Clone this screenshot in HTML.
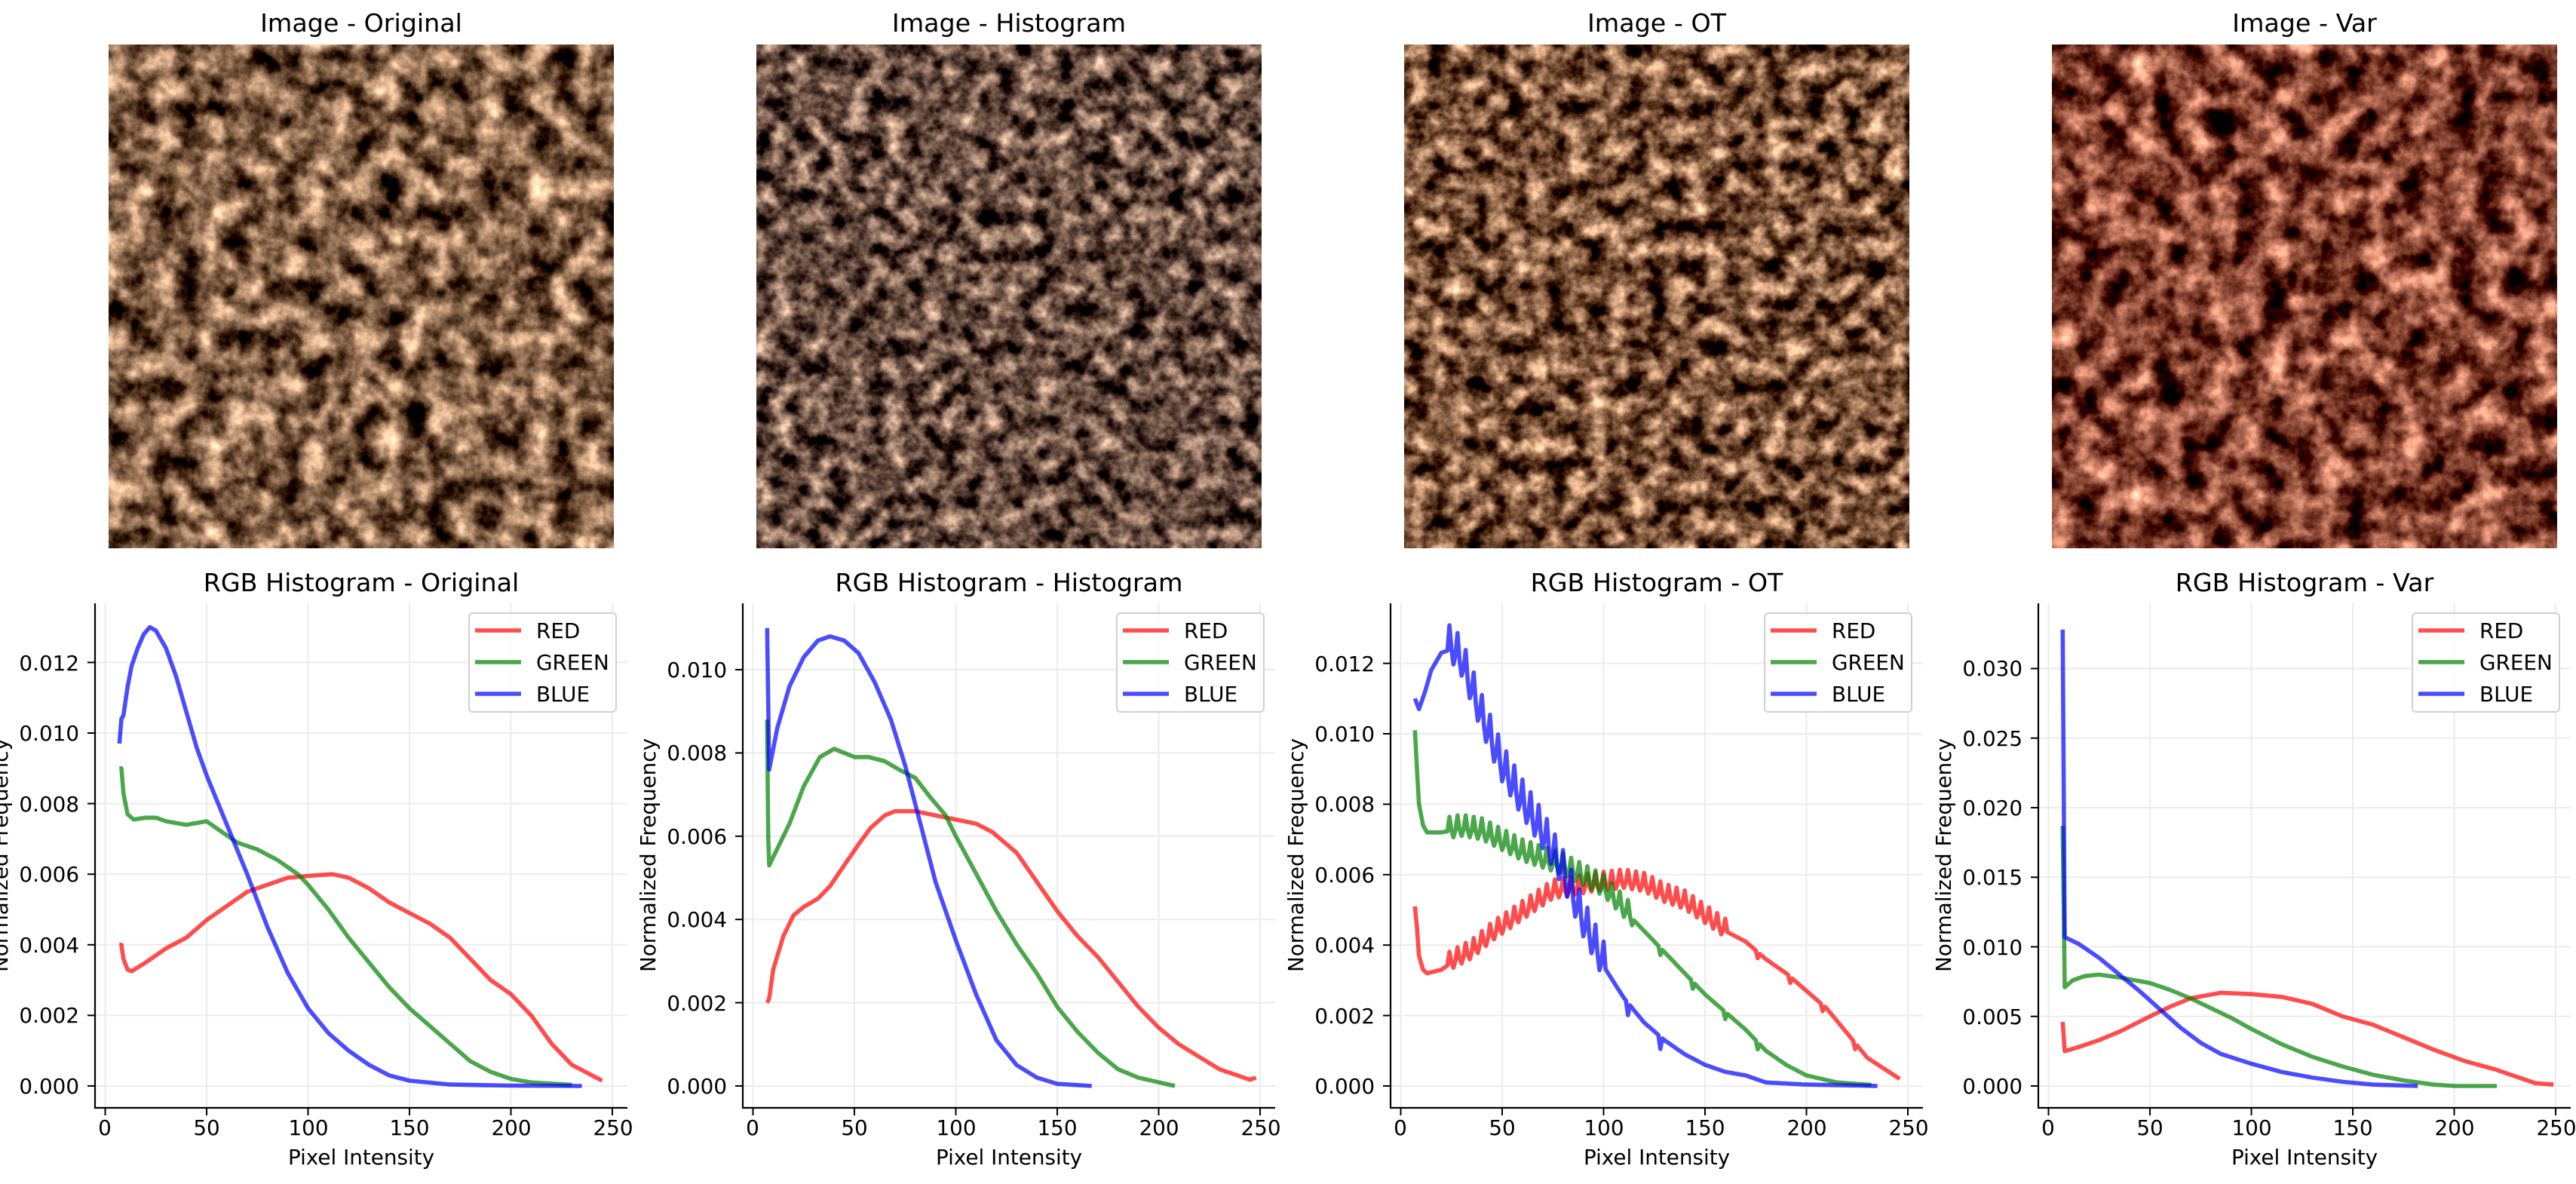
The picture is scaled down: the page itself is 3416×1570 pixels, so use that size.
<!DOCTYPE html>
<html><head><meta charset="utf-8"><style>
html,body{margin:0;padding:0;background:#fff;}
svg{display:block;font-family:"DejaVu Sans","Liberation Sans",sans-serif;}
</style></head><body>
<svg id="s" width="3416" height="1570" viewBox="0 0 3416 1570" xmlns="http://www.w3.org/2000/svg">
<defs>
<filter id="f0" x="0" y="0" width="1" height="1" color-interpolation-filters="sRGB"><feTurbulence type="fractalNoise" baseFrequency="0.03" numOctaves="5" seed="3"/><feColorMatrix type="matrix" values="1.8 0 0 0 -0.4  1.6 0 0 0 -0.43  1.4 0 0 0 -0.43  0 0 0 0 1"/></filter>
<filter id="f1" x="0" y="0" width="1" height="1" color-interpolation-filters="sRGB"><feTurbulence type="fractalNoise" baseFrequency="0.04" numOctaves="5" seed="7"/><feColorMatrix type="matrix" values="1.7 0 0 0 -0.45  1.5 0 0 0 -0.45  1.3 0 0 0 -0.4  0 0 0 0 1"/></filter>
<filter id="f2" x="0" y="0" width="1" height="1" color-interpolation-filters="sRGB"><feTurbulence type="fractalNoise" baseFrequency="0.038" numOctaves="5" seed="11"/><feColorMatrix type="matrix" values="1.8 0 0 0 -0.43  1.6 0 0 0 -0.48  1.4 0 0 0 -0.48  0 0 0 0 1"/></filter>
<filter id="f3" x="0" y="0" width="1" height="1" color-interpolation-filters="sRGB"><feTurbulence type="fractalNoise" baseFrequency="0.028" numOctaves="5" seed="19"/><feColorMatrix type="matrix" values="1.9 0 0 0 -0.45  1.6 0 0 0 -0.55  1.4 0 0 0 -0.52  0 0 0 0 1"/></filter>
</defs>
<g font-size="33.3" text-anchor="middle" fill="#000">
<text x="479" y="42">Image - Original</text>
<text x="1338" y="42">Image - Histogram</text>
<text x="2197" y="42">Image - OT</text>
<text x="3056" y="42">Image - Var</text>
<text x="479" y="784">RGB Histogram - Original</text>
<text x="1338" y="784">RGB Histogram - Histogram</text>
<text x="2197" y="784">RGB Histogram - OT</text>
<text x="3056" y="784">RGB Histogram - Var</text>
</g>
<rect x="144" y="59" width="670" height="668" filter="url(#f0)"/>
<rect x="1003" y="59" width="670" height="668" filter="url(#f1)"/>
<rect x="1862" y="59" width="670" height="668" filter="url(#f2)"/>
<rect x="2721" y="59" width="670" height="668" filter="url(#f3)"/>
<g id="plots"></g>
<g font-size="27.8" fill="#000">
<g text-anchor="middle">
<text x="479" y="1544">Pixel Intensity</text>
<text x="1338" y="1544">Pixel Intensity</text>
<text x="2197" y="1544">Pixel Intensity</text>
<text x="3056" y="1544">Pixel Intensity</text>
<text transform="translate(10,1134) rotate(-90)">Normalized Frequency</text>
<text transform="translate(869,1134) rotate(-90)">Normalized Frequency</text>
<text transform="translate(1728,1134) rotate(-90)">Normalized Frequency</text>
<text transform="translate(2587,1134) rotate(-90)">Normalized Frequency</text>
</g>
<g text-anchor="middle">
<text x="139" y="1505">0</text><text x="274" y="1505">50</text><text x="409" y="1505">100</text><text x="543" y="1505">150</text><text x="678" y="1505">200</text><text x="813" y="1505">250</text>
<text x="998" y="1505">0</text><text x="1133" y="1505">50</text><text x="1268" y="1505">100</text><text x="1402" y="1505">150</text><text x="1537" y="1505">200</text><text x="1672" y="1505">250</text>
<text x="1857" y="1505">0</text><text x="1992" y="1505">50</text><text x="2127" y="1505">100</text><text x="2261" y="1505">150</text><text x="2396" y="1505">200</text><text x="2531" y="1505">250</text>
<text x="2716" y="1505">0</text><text x="2851" y="1505">50</text><text x="2986" y="1505">100</text><text x="3120" y="1505">150</text><text x="3255" y="1505">200</text><text x="3390" y="1505">250</text>
</g>
<g text-anchor="end">
<text x="105" y="1450">0.000</text><text x="105" y="1356">0.002</text><text x="105" y="1263">0.004</text><text x="105" y="1169">0.006</text><text x="105" y="1076">0.008</text><text x="105" y="982">0.010</text><text x="105" y="889">0.012</text>
<text x="964" y="1450">0.000</text><text x="964" y="1340">0.002</text><text x="964" y="1229">0.004</text><text x="964" y="1119">0.006</text><text x="964" y="1008">0.008</text><text x="964" y="898">0.010</text>
<text x="1823" y="1450">0.000</text><text x="1823" y="1357">0.002</text><text x="1823" y="1263">0.004</text><text x="1823" y="1170">0.006</text><text x="1823" y="1076">0.008</text><text x="1823" y="983">0.010</text><text x="1823" y="890">0.012</text>
<text x="2682" y="1450">0.000</text><text x="2682" y="1358">0.005</text><text x="2682" y="1266">0.010</text><text x="2682" y="1173">0.015</text><text x="2682" y="1081">0.020</text><text x="2682" y="989">0.025</text><text x="2682" y="896">0.030</text>
</g>
<text x="711" y="846">RED</text><text x="711" y="888">GREEN</text><text x="711" y="930">BLUE</text>
<text x="1570" y="846">RED</text><text x="1570" y="888">GREEN</text><text x="1570" y="930">BLUE</text>
<text x="2429" y="846">RED</text><text x="2429" y="888">GREEN</text><text x="2429" y="930">BLUE</text>
<text x="3288" y="846">RED</text><text x="3288" y="888">GREEN</text><text x="3288" y="930">BLUE</text>
</g>
</svg>
<script>
var NS="http://www.w3.org/2000/svg";
var G=document.getElementById("plots");
function el(t,a){var e=document.createElementNS(NS,t);for(var k in a)e.setAttribute(k,a[k]);G.appendChild(e);return e;}
var scales=[46.8,55.2,46.7,18.45];
var yticks=[[0,.002,.004,.006,.008,.010,.012],[0,.002,.004,.006,.008,.010],[0,.002,.004,.006,.008,.010,.012],[0,.005,.010,.015,.020,.025,.030]];
var D=[
[[[7,.004],[8,.004],[9,.0036],[11,.0033],[13,.00325],[20,.0035],[30,.0039],[40,.0042],[50,.0047],[60,.0051],[70,.0055],[80,.0057],[90,.0059],[100,.00595],[112,.006],[120,.0059],[130,.0056],[140,.0052],[150,.0049],[160,.0046],[170,.0042],[180,.0036],[190,.003],[200,.0026],[210,.002],[220,.0012],[230,.0006],[245,.00015]],
[[7,.009],[8,.009],[9,.0083],[11,.0077],[14,.00755],[20,.0076],[25,.0076],[30,.0075],[40,.0074],[50,.0075],[55,.0073],[65,.0069],[75,.0067],[85,.0064],[95,.006],[100,.0057],[110,.005],[120,.0042],[130,.0035],[140,.0028],[150,.0022],[160,.0017],[170,.0012],[180,.0007],[190,.0004],[200,.0002],[210,.0001],[230,.00003]],
[[7,.0097],[8,.0104],[9,.0105],[11,.0113],[13,.0119],[16,.0124],[19,.0128],[22,.013],[25,.0129],[30,.0124],[35,.0116],[40,.0106],[45,.0096],[50,.0088],[55,.0081],[60,.0074],[70,.006],[80,.0045],[90,.0032],[100,.0022],[110,.0015],[120,.001],[130,.0006],[140,.0003],[150,.00015],[170,.00004],[200,.00001],[235,0]]],
[[[7,.002],[8,.0021],[10,.0028],[15,.0036],[20,.0041],[25,.0043],[32,.0045],[38,.0048],[45,.0053],[52,.0058],[58,.0062],[65,.0065],[70,.0066],[80,.0066],[90,.0065],[100,.0064],[110,.0063],[118,.0061],[130,.0056],[140,.0049],[150,.0042],[160,.0036],[170,.0031],[180,.0025],[190,.0019],[200,.0014],[210,.001],[220,.0007],[230,.0004],[245,.00015],[248,.0002]],
[[7,.0088],[7.5,.006],[8,.0053],[12,.0057],[18,.0063],[25,.0072],[33,.0079],[40,.0081],[45,.008],[50,.0079],[57,.0079],[65,.0078],[72,.0076],[80,.0074],[88,.0069],[95,.0065],[100,.006],[110,.0051],[120,.0042],[130,.0034],[140,.0027],[150,.0019],[160,.0013],[170,.0008],[180,.0004],[190,.0002],[208,0]],
[[7,.011],[8,.0076],[12,.0086],[18,.0096],[25,.0103],[32,.0107],[38,.0108],[45,.0107],[52,.0104],[60,.0097],[68,.0088],[75,.0077],[82,.0064],[90,.0049],[100,.0035],[110,.0022],[120,.0011],[130,.0005],[140,.0002],[150,.00005],[167,0]]],
[[[7,.0051],[8,.0045],[9,.0037],[11,.0033],[13,.0032],[20,.0033],[25,.0035],[35,.0038],[45,.0043],[55,.0047],[65,.0051],[75,.0055],[85,.0056],[95,.0057],[110,.0058],[120,.0057],[130,.0054],[140,.0052],[150,.0048],[160,.0044],[170,.0041],[180,.0036],[190,.0032],[200,.0027],[210,.0022],[220,.0015],[230,.0008],[246,.0002]],
[[7,.0101],[8,.009],[9,.008],[11,.0074],[13,.0072],[20,.0072],[30,.0073],[40,.0072],[50,.0069],[60,.0066],[70,.0064],[80,.0062],[90,.0059],[100,.0056],[110,.005],[120,.0044],[130,.0038],[140,.0032],[150,.0026],[160,.0021],[170,.0016],[180,.001],[190,.0006],[200,.0003],[215,.0001],[232,.00003]],
[[7,.011],[9,.0107],[12,.0112],[15,.0118],[20,.0123],[25,.0124],[30,.012],[35,.0112],[40,.0104],[50,.009],[60,.008],[70,.0071],[80,.006],[90,.0046],[100,.0034],[110,.0025],[120,.0018],[130,.0013],[140,.0009],[150,.0006],[160,.0004],[170,.0003],[180,.0001],[200,.00004],[235,0]]],
[[[7,.0046],[8,.0025],[15,.0028],[25,.0033],[35,.0039],[50,.005],[60,.0057],[70,.0063],[85,.0067],[100,.0066],[115,.0064],[130,.0059],[145,.005],[160,.0044],[175,.0035],[190,.0026],[205,.0018],[220,.0012],[230,.0007],[240,.0002],[249,.0001]],
[[7,.0187],[8,.0071],[12,.0076],[18,.0079],[25,.008],[35,.0078],[50,.0074],[60,.0069],[70,.0063],[80,.0056],[90,.0049],[100,.0041],[115,.003],[130,.0021],[145,.0014],[160,.0008],[175,.0004],[190,.0001],[200,0],[221,0]],
[[7,.0328],[8,.0107],[15,.0102],[25,.0092],[35,.008],[45,.0068],[55,.0055],[65,.0042],[75,.0031],[85,.0023],[100,.0016],[115,.001],[130,.0006],[145,.0003],[160,.0001],[182,0]]]
];
var cols=["rgb(255,0,0)","rgb(0,128,0)","rgb(0,0,255)"];
function interp(p,x){for(var i=0;i<p.length-1;i++){if(x>=p[i][0]&&x<=p[i+1][0]){var t=(x-p[i][0])/(p[i+1][0]-p[i][0]);return p[i][1]+t*(p[i+1][1]-p[i][1]);}}return p[p.length-1][1];}
var dens=[160,115,100];
for(var i=0;i<4;i++){
 var S=126+859*i, x0=S+13.5, k=2.69, sc=scales[i]*1000, y0=1440;
 for(var v=0;v<=250;v+=50){var gx=x0+v*k;el("line",{x1:gx,x2:gx,y1:800,y2:1469,stroke:"#ebebeb","stroke-width":2});el("line",{x1:gx,x2:gx,y1:1469,y2:1479,stroke:"#000","stroke-width":2});}
 yticks[i].forEach(function(t){var gy=y0-t*sc;el("line",{x1:S,x2:S+706,y1:gy,y2:gy,stroke:"#ebebeb","stroke-width":2});el("line",{x1:S-10,x2:S,y1:gy,y2:gy,stroke:"#000","stroke-width":2});});
 for(var c=0;c<3;c++){
  var p=D[i][c], d="", x1=p[0][0], x2=p[p.length-1][0];
  var pts=[];
  for(var j=0;j<p.length;j++)pts.push([p[j][0],p[j][1]]);
  if(i==2){pts=[];var amp=[0.00035,0.0004,0.0007][c];var dense=dens[c];
   for(var x=x1;x<=x2;x+=1){var y=interp(p,x);
    if(x>=24){var a=0;
     if(x<=dense){if(x%4==0)a=amp;else if(x%4==2)a=-amp*0.5;}
     else if(x%16==0&&y>0.0008){a=-amp*0.5;}
     y+=a;}
    pts.push([x,Math.max(0,y)]);}
   }
  for(var j=0;j<pts.length;j++){d+=(j?"L":"M")+(x0+pts[j][0]*k).toFixed(1)+","+(y0-pts[j][1]*sc).toFixed(1);}
  el("path",{d:d,fill:"none",stroke:cols[c],"stroke-opacity":0.7,"stroke-width":5.6,"stroke-linejoin":"round"});
 }
 el("line",{x1:S,x2:S,y1:800,y2:1470,stroke:"#000","stroke-width":2.2});
 el("line",{x1:S-1,x2:S+706,y1:1469,y2:1469,stroke:"#000","stroke-width":2.2});
 var L=S+496;
 el("rect",{x:L,y:813,width:195,height:131,rx:5,fill:"#fff","fill-opacity":0.8,stroke:"#d0d0d0","stroke-width":2});
 for(var c=0;c<3;c++){var ly=836+42*c;el("line",{x1:L+8,x2:L+69,y1:ly,y2:ly,stroke:cols[c],"stroke-opacity":0.7,"stroke-width":5.6});}
}
</script>
</body></html>
